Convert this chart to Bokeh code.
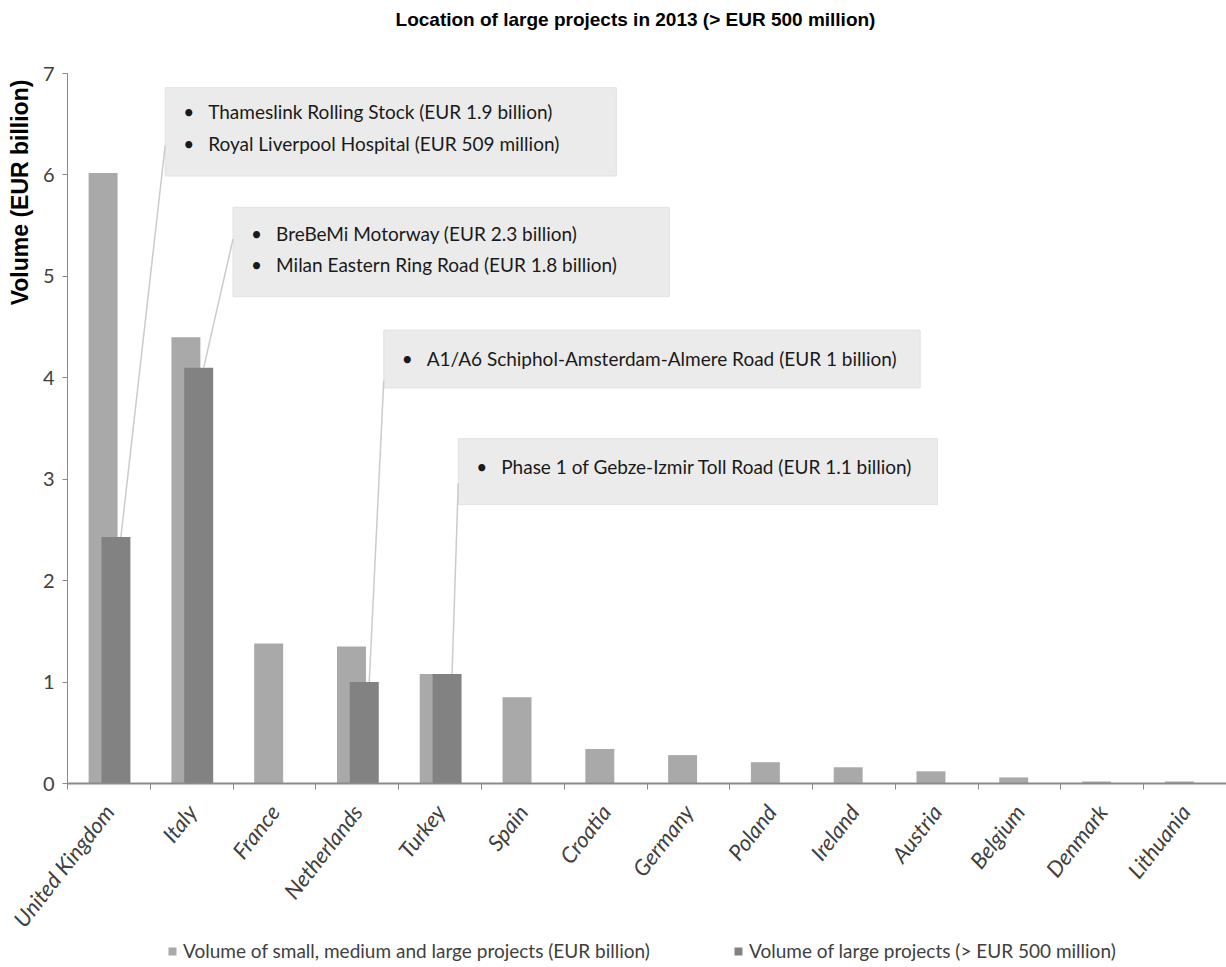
import math

from bokeh.core.properties import value
from bokeh.embed import file_html
from bokeh.models import (ColumnDataSource, FixedTicker, Label, Legend, LegendItem,
                          Range1d)
from bokeh.plotting import figure
from bokeh.resources import INLINE

# ---- data -------------------------------------------------------------
countries = ["United Kingdom", "Italy", "France", "Netherlands", "Turkey", "Spain",
             "Croatia", "Germany", "Poland", "Ireland", "Austria", "Belgium",
             "Denmark", "Lithuania"]
total_volume = [6.02, 4.40, 1.38, 1.35, 1.08, 0.85, 0.34, 0.28, 0.21, 0.16,
                0.12, 0.06, 0.02, 0.02]
large_volume = [2.43, 4.10, 0.0, 1.00, 1.08, 0.0, 0.0, 0.0, 0.0, 0.0,
                0.0, 0.0, 0.0, 0.0]
y_ticks = [0, 1, 2, 3, 4, 5, 6, 7]

title_text = "Location of large projects in 2013 (> EUR 500 million)"
y_title = "Volume (EUR billion)"
legend_total = "Volume of small, medium and large projects (EUR billion)"
legend_large = "Volume of large projects (> EUR 500 million)"

callout_country = ["United Kingdom", "Italy", "Netherlands", "Turkey"]
callout_lines = [
    ["Thameslink Rolling Stock (EUR 1.9 billion)",
     "Royal Liverpool Hospital (EUR 509 million)"],
    ["BreBeMi Motorway (EUR 2.3 billion)",
     "Milan Eastern Ring Road (EUR 1.8 billion)"],
    ["A1/A6 Schiphol-Amsterdam-Almere Road (EUR 1 billion)"],
    ["Phase 1 of Gebze-Izmir Toll Road (EUR 1.1 billion)"],
]

# ---- callout box layout (left, right, top, bottom, anchor y, row ys) ---
box_left = [0.68, 1.50, 3.32, 4.22]
box_right = [6.13, 6.77, 9.80, 10.01]
box_top = [6.86, 5.68, 4.47, 3.40]
box_bottom = [5.99, 4.80, 3.90, 2.75]
box_anchor_y = [6.29, 5.37, 3.97, 2.96]
box_rows_y = [[6.63, 6.31], [5.42, 5.12], [4.19], [3.13]]

LIGHT = "#a9a9a9"
DARK = "#828282"
AXIS = "#8a8a8a"
TEXT = "#404040"
FONT = "Lato"

W, H = 1226, 967
PLOT_L, PLOT_T, PLOT_B = 67, 73, 783      # pixel edges of the value area
n = len(countries)
xs = list(range(n))
LIGHT_SHIFT, DARK_SHIFT, BAR_W = -0.07, 0.085, 0.35

# the frame covers the whole canvas; axes are pinned inside it
ux = (W - PLOT_L) / n
uy = (PLOT_B - PLOT_T) / 7.0
x_lo = -0.5 - PLOT_L / ux
y_lo = -(H - PLOT_B) / uy
y_hi = 7 + PLOT_T / uy


def px_x(px):
    return x_lo + px / ux


def px_y(py):
    return y_hi - py / uy


p = figure(width=W, height=H, output_backend="svg", toolbar_location=None,
           x_range=Range1d(x_lo, n - 0.5), y_range=Range1d(y_lo, y_hi),
           min_border=0)
p.outline_line_color = None
p.xgrid.visible = False
p.ygrid.visible = False
p.background_fill_color = "white"
p.border_fill_color = "white"

# ---- bars -------------------------------------------------------------
src_total = ColumnDataSource(dict(x=[i + LIGHT_SHIFT for i in xs], top=total_volume))
r_total = p.vbar(x="x", top="top", width=BAR_W, source=src_total,
                 fill_color=LIGHT, line_color=None)

lx = [i + DARK_SHIFT for i in xs if large_volume[i] > 0]
lt = [v for v in large_volume if v > 0]
src_large = ColumnDataSource(dict(x=lx, top=lt))
r_large = p.vbar(x="x", top="top", width=BAR_W, source=src_large,
                 fill_color=DARK, line_color=None)

# ---- callouts ---------------------------------------------------------
p.quad(left=box_left, right=box_right, top=box_top, bottom=box_bottom,
       fill_color="#ebebeb", line_color="#e2e2e2", line_width=1)

for k, c in enumerate(callout_country):
    i = countries.index(c)
    x0 = i + DARK_SHIFT + 0.06
    p.line([x0, box_left[k]], [large_volume[i], box_anchor_y[k]],
           line_color="#cbcbcb", line_width=1.5)

bx, by, tx, ty, tt = [], [], [], [], []
for k, lines in enumerate(callout_lines):
    for line, yy in zip(lines, box_rows_y[k]):
        bx.append(box_left[k]); by.append(yy)
        tx.append(box_left[k]); ty.append(yy); tt.append(line)
p.text(x=bx, y=by, text=["\u2022"] * len(bx), x_offset=18,
       text_font=value(FONT), text_font_size="19px", text_color="#1a1a1a",
       text_baseline="middle", text_align="left")
p.text(x=tx, y=ty, text=tt, x_offset=43,
       text_font=value(FONT), text_font_size="19px", text_color="#1a1a1a",
       text_baseline="middle", text_align="left")

# ---- axes -------------------------------------------------------------
xa = p.xaxis[0]
xa.fixed_location = 0
xa.bounds = (-0.5, n - 0.5)
xa.ticker = FixedTicker(ticks=xs, minor_ticks=[i - 0.5 for i in range(n + 1)])
xa.major_label_overrides = {i: countries[i] for i in xs}
xa.major_tick_out = 0
xa.major_tick_in = 0
xa.minor_tick_out = 6
xa.minor_tick_in = 0
xa.minor_tick_line_color = AXIS
xa.axis_line_color = AXIS
xa.axis_line_width = 2
xa.major_label_orientation = math.radians(52)
xa.major_label_text_font = FONT
xa.major_label_text_font_style = "italic"
xa.major_label_text_font_size = "22px"
xa.major_label_text_color = TEXT
xa.major_label_standoff = 18

ya = p.yaxis[0]
ya.fixed_location = -0.5
ya.bounds = (0, 7)
ya.ticker = FixedTicker(ticks=y_ticks)
ya.major_tick_out = 5
ya.major_tick_in = 0
ya.minor_tick_out = 0
ya.minor_tick_in = 0
ya.major_tick_line_color = AXIS
ya.axis_line_color = AXIS
ya.major_label_text_font = FONT
ya.major_label_text_font_size = "20px"
ya.major_label_text_color = TEXT
ya.major_label_standoff = 8

# ---- titles -----------------------------------------------------------
p.add_layout(Label(x=px_x(635), y=px_y(19), text=title_text, text_align="center",
                   text_baseline="middle", text_font="Liberation Sans",
                   text_font_style="bold", text_font_size="19px",
                   text_color="#000000"))
p.add_layout(Label(x=px_x(19), y=px_y(192), text=y_title, angle=math.pi / 2,
                   text_align="center", text_baseline="middle",
                   text_font="Liberation Sans", text_font_style="bold",
                   text_font_size="23px", text_color="#000000"))

# ---- legends ----------------------------------------------------------
for rend, lab, gx in [(r_total, legend_total, 167), (r_large, legend_large, 733)]:
    lg = Legend(items=[LegendItem(label=lab, renderers=[rend])],
                location=(gx, H - 962), orientation="horizontal",
                padding=0, margin=0, spacing=0, label_standoff=6,
                glyph_width=10, glyph_height=10, label_height=20,
                border_line_color=None, background_fill_alpha=0,
                label_text_font=FONT, label_text_font_size="19px",
                label_text_color=TEXT)
    p.add_layout(lg)

open("out.html", "w").write(file_html(p, INLINE))
